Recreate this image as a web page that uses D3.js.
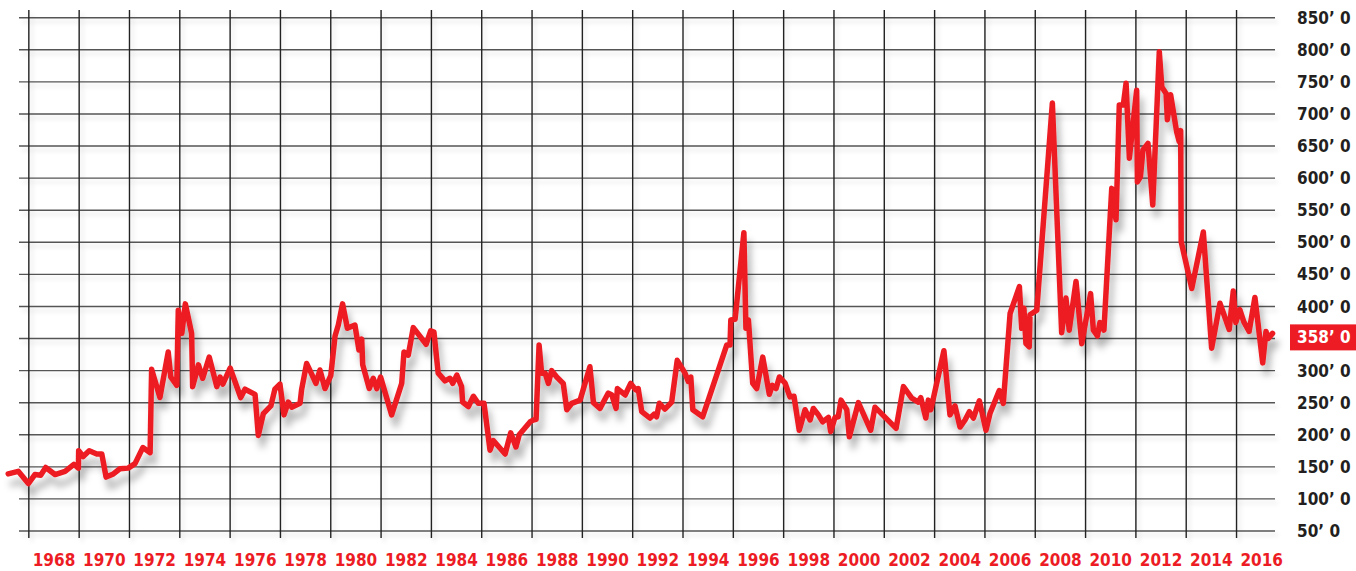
<!DOCTYPE html>
<html>
<head>
<meta charset="utf-8">
<script src="https://cdn.jsdelivr.net/npm/d3@7"></script>
<style>
  html, body { margin: 0; padding: 0; background: #fff; }
  svg { display: block; }
  .lbl { font-family: "DejaVu Sans", sans-serif; font-stretch: condensed; font-weight: bold; font-size: 17px; }
</style>
</head>
<body>
<svg id="chart" width="1356" height="571"></svg>
<script>
// Monthly corn quotes (cents per bushel), decimal year positions
const years = [
  1966.18, 1966.58, 1966.98, 1967.24, 1967.47, 1967.67, 1968.04, 1968.44, 1968.79, 1968.97,
  1968.98, 1969.16, 1969.40, 1969.70, 1969.90, 1970.07, 1970.36, 1970.62, 1970.95, 1971.22,
  1971.53, 1971.82, 1971.88, 1972.21, 1972.54, 1972.64, 1972.88, 1972.94, 1973.08, 1973.22,
  1973.47, 1973.51, 1973.74, 1973.91, 1974.17, 1974.47, 1974.60, 1974.71, 1975.00, 1975.42,
  1975.59, 1975.99, 1976.12, 1976.32, 1976.62, 1976.78, 1976.98, 1977.14, 1977.31, 1977.45,
  1977.78, 1977.84, 1978.04, 1978.20, 1978.41, 1978.57, 1978.77, 1979.00, 1979.17, 1979.30,
  1979.47, 1979.66, 1979.96, 1980.12, 1980.23, 1980.27, 1980.53, 1980.69, 1980.83, 1980.98,
  1981.42, 1981.82, 1981.91, 1982.08, 1982.28, 1982.79, 1982.97, 1983.10, 1983.27, 1983.54,
  1983.74, 1983.85, 1984.01, 1984.20, 1984.24, 1984.47, 1984.67, 1984.86, 1985.09, 1985.33,
  1985.46, 1985.93, 1986.15, 1986.36, 1986.49, 1986.92, 1987.05, 1987.16, 1987.28, 1987.38,
  1987.52, 1987.65, 1987.78, 1987.98, 1988.24, 1988.38, 1988.58, 1988.91, 1989.30, 1989.44,
  1989.70, 1990.03, 1990.17, 1990.34, 1990.39, 1990.70, 1990.92, 1991.12, 1991.22, 1991.36,
  1991.69, 1991.85, 1991.95, 1992.06, 1992.28, 1992.55, 1992.77, 1993.08, 1993.21, 1993.31,
  1993.39, 1993.78, 1994.74, 1994.87, 1994.90, 1995.07, 1995.42, 1995.50, 1995.60, 1995.77,
  1995.93, 1996.17, 1996.43, 1996.55, 1996.70, 1996.83, 1997.05, 1997.25, 1997.41, 1997.62,
  1997.85, 1998.05, 1998.18, 1998.38, 1998.55, 1998.78, 1998.87, 1999.04, 1999.17, 1999.28,
  1999.51, 1999.61, 1999.97, 2000.46, 2000.63, 2001.47, 2001.76, 2002.09, 2002.35, 2002.45,
  2002.65, 2002.75, 2002.85, 2003.37, 2003.61, 2003.81, 2004.01, 2004.21, 2004.38, 2004.54,
  2004.78, 2005.04, 2005.20, 2005.57, 2005.73, 2006.00, 2006.37, 2006.46, 2006.55, 2006.63,
  2006.76, 2006.79, 2007.06, 2007.68, 2008.05, 2008.22, 2008.35, 2008.62, 2008.85, 2009.20,
  2009.31, 2009.47, 2009.57, 2009.73, 2010.04, 2010.21, 2010.34, 2010.50, 2010.61, 2010.74,
  2011.03, 2011.06, 2011.18, 2011.28, 2011.48, 2011.67, 2011.93, 2012.03, 2012.20, 2012.25,
  2012.38, 2012.62, 2012.72, 2012.78, 2012.80, 2013.22, 2013.68, 2014.01, 2014.34, 2014.71,
  2014.87, 2014.97, 2015.13, 2015.29, 2015.50, 2015.73, 2016.04, 2016.17, 2016.26, 2016.43
];
const prices = [
  139, 143, 124, 138, 137, 149, 138, 143, 154, 148,
  175, 166, 175, 170, 170, 134, 139, 147, 148, 155,
  180, 172, 302, 258, 329, 290, 277, 394, 358, 404,
  358, 275, 309, 288, 321, 275, 290, 279, 304, 258,
  271, 263, 199, 233, 245, 271, 279, 231, 251, 243,
  249, 270, 311, 298, 280, 301, 272, 292, 354, 371,
  404, 366, 371, 332, 349, 309, 272, 288, 272, 290,
  231, 280, 329, 324, 367, 341, 362, 360, 296, 284,
  288, 280, 293, 275, 251, 244, 260, 249, 249, 176,
  191, 170, 203, 181, 200, 220, 223, 224, 340, 296,
  296, 280, 300, 290, 280, 239, 249, 254, 306, 250,
  241, 265, 262, 241, 272, 262, 280, 270, 272, 236,
  226, 232, 228, 249, 240, 251, 316, 296, 283, 290,
  239, 228, 340, 340, 379, 380, 515, 366, 379, 280,
  272, 321, 263, 277, 272, 290, 281, 259, 260, 207,
  239, 223, 241, 231, 220, 227, 205, 227, 228, 254,
  239, 197, 250, 207, 243, 210, 275, 257, 251, 258,
  226, 254, 239, 331, 231, 245, 212, 223, 236, 226,
  253, 207, 233, 269, 249, 389, 431, 366, 397, 342,
  337, 387, 394, 717, 359, 413, 363, 439, 342, 420,
  363, 354, 375, 363, 584, 535, 714, 714, 748, 631,
  737, 594, 602, 644, 654, 558, 797, 742, 732, 691,
  730, 672, 657, 674, 501, 428, 516, 335, 405, 364,
  424, 375, 395, 376, 361, 414, 312, 361, 350, 358
];
const yearLabels = [1968, 1970, 1972, 1974, 1976, 1978, 1980, 1982, 1984, 1986, 1988, 1990,
  1992, 1994, 1996, 1998, 2000, 2002, 2004, 2006, 2008, 2010, 2012, 2014, 2016];
const priceTicks = [50, 100, 150, 200, 250, 300, 350, 400, 450, 500, 550, 600, 650, 700, 750, 800, 850];

const RED = "#ed1c24";
const INK = "#231f20";

const svg = d3.select("#chart");
const x = d3.scaleLinear().domain([1968, 2016]).range([54, 1261.7]);
const y = d3.scaleLinear().domain([50, 850]).range([531, 17.7]);

const gridLeft = 19, gridRight = 1275;
const fmt = v => `${v}\u2019 0`;

const defs = svg.append("defs");
const soft = defs.append("filter").attr("id", "gridShadow")
  .attr("x", "-10%").attr("y", "-10%").attr("width", "120%").attr("height", "120%");
soft.append("feDropShadow").attr("dx", 3).attr("dy", 4).attr("stdDeviation", 2)
  .attr("flood-color", "#000").attr("flood-opacity", 0.12);
const lineShadow = defs.append("filter").attr("id", "lineShadow")
  .attr("x", "-5%").attr("y", "-10%").attr("width", "110%").attr("height", "130%");
lineShadow.append("feDropShadow").attr("dx", 4).attr("dy", 10).attr("stdDeviation", 3.5)
  .attr("flood-color", "#000").attr("flood-opacity", 0.28);

// grid: horizontal rules at each price tick, vertical rules on odd years
const grid = svg.append("g").attr("filter", "url(#gridShadow)");
grid.selectAll("line.h").data(priceTicks).join("line")
  .attr("class", "h")
  .attr("x1", gridLeft).attr("x2", gridRight)
  .attr("y1", d => y(d)).attr("y2", d => y(d))
  .attr("stroke", "#555").attr("stroke-width", 1.4);
grid.selectAll("line.v").data(yearLabels.map(d => d - 1)).join("line")
  .attr("class", "v")
  .attr("x1", d => x(d)).attr("x2", d => x(d))
  .attr("y1", 10).attr("y2", y(50) + 7)
  .attr("stroke", "#222").attr("stroke-width", 1.4);

// price line
const line = d3.line().x((d, i) => x(years[i])).y(d => y(d));
svg.append("path").datum(prices)
  .attr("d", line)
  .attr("fill", "none")
  .attr("stroke", RED)
  .attr("stroke-width", 5.5)
  .attr("stroke-linejoin", "round")
  .attr("stroke-linecap", "round")
  .attr("filter", "url(#lineShadow)");

// year labels
svg.append("g").selectAll("text").data(yearLabels).join("text")
  .attr("class", "lbl")
  .attr("x", d => x(d)).attr("y", 566)
  .attr("text-anchor", "middle")
  .attr("fill", RED)
  .text(d => d);

// price labels on the right
const last = prices[prices.length - 1];
svg.append("g").selectAll("text").data(priceTicks.filter(v => Math.abs(v - last) > 25)).join("text")
  .attr("class", "lbl")
  .attr("x", 1297).attr("y", d => y(d))
  .attr("dy", "0.36em")
  .attr("fill", INK)
  .text(fmt);

// current price tag
const tagY = y(last) + 4;
svg.append("rect")
  .attr("x", 1290).attr("y", tagY - 13)
  .attr("width", 66).attr("height", 26)
  .attr("fill", RED);
svg.append("text")
  .attr("class", "lbl")
  .attr("x", 1297).attr("y", tagY)
  .attr("dy", "0.36em")
  .attr("fill", "#fff")
  .text(fmt(last));
</script>
</body>
</html>
